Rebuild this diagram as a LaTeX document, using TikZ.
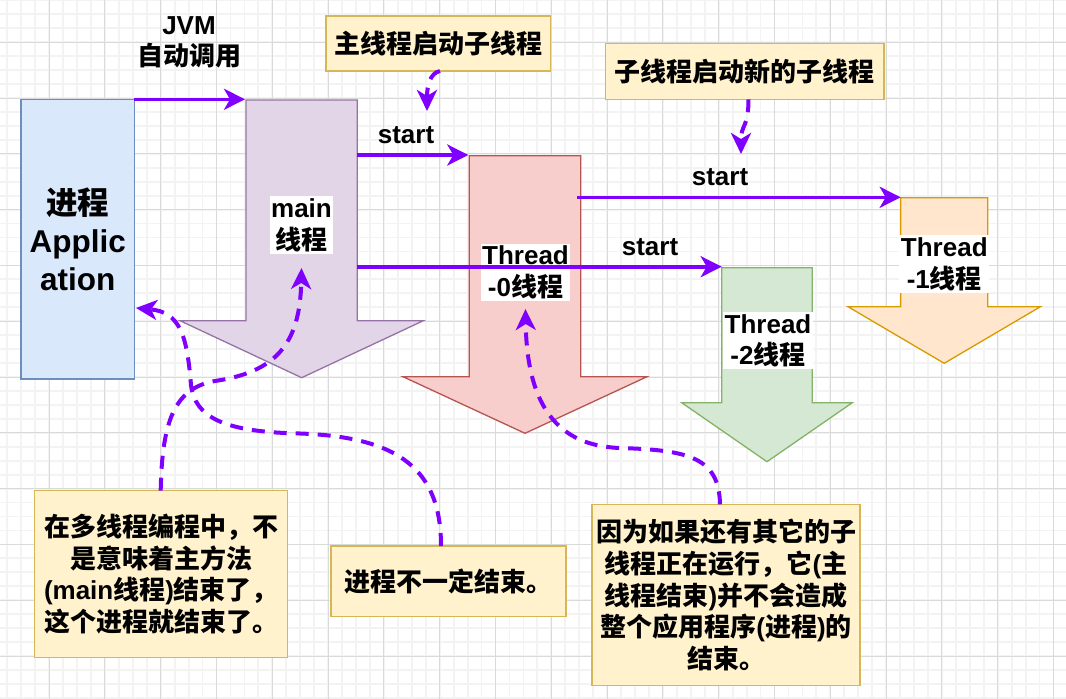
\documentclass[tikz,border=0pt]{standalone}
\usepackage{fontspec}
\setmainfont{Liberation Sans}
\newfontfamily\zhfont{Noto Sans CJK SC}
\usetikzlibrary{arrows.meta}
\newcommand\zh[1]{{\zhfont\bfseries #1}}
\newcommand\fsn{\fontsize{26}{31.7}\selectfont\bfseries}
\newcommand\fsb{\fontsize{31.5}{38}\selectfont\bfseries}
\definecolor{purp}{HTML}{7F00FF}
\definecolor{blueF}{HTML}{DAE8FC}\definecolor{blueD}{HTML}{6C8EBF}
\definecolor{violF}{HTML}{E1D5E7}\definecolor{violD}{HTML}{9673A6}
\definecolor{redF}{HTML}{F8CECC}\definecolor{redD}{HTML}{B85450}
\definecolor{greenF}{HTML}{D5E8D4}\definecolor{greenD}{HTML}{82B366}
\definecolor{orF}{HTML}{FFE6CC}\definecolor{orD}{HTML}{D79B00}
\definecolor{noteF}{HTML}{FFF2CC}\definecolor{noteD}{HTML}{D6B656}
\definecolor{gridMinor}{HTML}{F3F3F3}\definecolor{gridMajor}{HTML}{DADADA}
\begin{document}
\begin{tikzpicture}[x=1pt,y=-1pt,
  minorg/.style={gridMinor,line width=1.8pt},
  majorg/.style={gridMajor,line width=1pt},
  procbox/.style={draw=blueD,fill=blueF,line width=1.3pt,inner sep=0pt,align=center,font=\fsb},
  bigarrow/.style={line width=1.3pt},
  lbl/.style={fill=white,inner xsep=1.5pt,inner ysep=2pt,align=center,font=\fsn},
  txt/.style={inner sep=0pt,align=center,font=\fsn},
  note/.style={draw=noteD,fill=noteF,line width=1.3pt,inner sep=0pt,align=center,font=\fsn},
  conn/.style={purp,line width=3.6pt,-{Stealth[length=21pt,width=21pt,inset=6pt]}},
  dconn/.style={purp,line width=4pt,dash pattern=on 13pt off 9pt,-{Stealth[length=21pt,width=20pt,inset=6pt]}}
]
\useasboundingbox (0,0) rectangle (1066,699);
\fill[white] (0,0) rectangle (1066,699);
% grid
\foreach \i in {-3,...,73} \draw[minorg] ({49.1+13.95*\i},0) -- ({49.1+13.95*\i},699);
\foreach \j in {-3,...,48} \draw[minorg] (0,{42.2+13.95*\j}) -- (1066,{42.2+13.95*\j});
\foreach \i in {-1,...,18} \draw[majorg] ({49.1+55.8*\i},0) -- ({49.1+55.8*\i},699);
\foreach \j in {-1,...,12} \draw[majorg] (0,{42.2+55.8*\j}) -- (1066,{42.2+55.8*\j});

% process box
\node[procbox,minimum width=113.3pt,minimum height=279.7pt] (proc) at (77.7,239.2)
  {\zh{进程}\\Applic\\ation};

% big arrows
\draw[bigarrow,draw=violD,fill=violF] (246,100) -- (357.3,100) -- (357.3,320.7) -- (423.3,320.7) -- (301.7,377.7) -- (180,320.7) -- (246,320.7) -- cycle;
\draw[bigarrow,draw=redD,fill=redF] (469.3,155.7) -- (580.7,155.7) -- (580.7,376.7) -- (647,376.7) -- (525,433.3) -- (403,376.7) -- (469.3,376.7) -- cycle;
\draw[bigarrow,draw=greenD,fill=greenF] (721.7,267.7) -- (812.3,267.7) -- (812.3,402.7) -- (852.3,402.7) -- (767,461.7) -- (681.7,402.7) -- (721.7,402.7) -- cycle;
\draw[bigarrow,draw=orD,fill=orF] (900.7,197.7) -- (987.7,197.7) -- (987.7,306.7) -- (1040.4,306.7) -- (944.2,363.3) -- (848,306.7) -- (900.7,306.7) -- cycle;

% connection points
\coordinate (procTR) at (134.3,99.3);
\coordinate (mainTL) at (245,99.3);
\coordinate (mainR1) at (357.3,155);
\coordinate (t0TL) at (468.3,155);
\coordinate (t0R) at (577.3,197.3);
\coordinate (t1TL) at (900.7,197.3);
\coordinate (mainR2) at (357.3,266.7);
\coordinate (t2TL) at (721.7,266.7);

% labels inside arrows
\node[lbl] (mainlbl) at (301.5,225) {main\\\zh{线程}};
\node[lbl] (t0lbl) at (525.5,272.3) {Thread\\-0\zh{线程}};
\node[lbl] (t2lbl) at (768,340.8) {Thread\\-2\zh{线程}};
\node[lbl] (t1lbl) at (944.3,264) {Thread\\-1\zh{线程}};

% solid connectors
\draw[conn] (procTR) -- (mainTL);
\draw[conn] (mainR1) -- (t0TL);
\draw[conn] (t0R) -- (t1TL);
\draw[conn] (mainR2) -- (t2TL);

% connector labels
\node[txt] (jvm) at (189,42.5) {JVM\\\zh{自动调用}};
\node[txt] (s1) at (406,135) {start};
\node[txt] (s2) at (720,176.7) {start};
\node[txt] (s3) at (650,247.3) {start};

% notes
\node[note,minimum width=224.5pt,minimum height=55pt] (n1) at (438.3,43.5) {\zh{主线程启动子线程}};
\node[note,minimum width=278.5pt,minimum height=55.8pt] (n2) at (744.8,71.4) {\zh{子线程启动新的子线程}};
\node[note,minimum width=252.9pt,minimum height=167pt] (n3) at (161,574.2)
  {\zh{在多线程编程中，不}\\\zh{是意味着主方法}\\(main\zh{线程})\zh{结束了，}\\\zh{这个进程就结束了。}};
\node[note,minimum width=235pt,minimum height=70.3pt] (n4) at (448.5,581.2) {\zh{进程不一定结束。}};
\node[note,minimum width=268pt,minimum height=181.4pt] (n5) at (726,595)
  {\zh{因为如果还有其它的子}\\\zh{线程正在运行，它}(\zh{主}\\\zh{线程结束})\zh{并不会造成}\\\zh{整个应用程序}(\zh{进程})\zh{的}\\\zh{结束。}};

% dashed connectors
\coordinate (n1b) at (440,71);
\coordinate (s1t) at (427,111);
\coordinate (n2b) at (748.5,99.3);
\coordinate (s2t) at (741,154);
\coordinate (n3t) at (160.7,490.7);
\coordinate (mainlb) at (301.5,268);
\coordinate (n4t) at (441,546);
\coordinate (procR) at (136,308);
\coordinate (n5t) at (720,504.3);
\coordinate (t0lb) at (525.5,309);

\draw[dconn] (n1b) .. controls (430,73) and (427,86) .. (s1t);
\draw[dconn] (n2b) .. controls (748.5,128) and (741,124) .. (s2t);
\draw[dconn] (n3t) .. controls (162,420) and (175,388) .. (215,381) .. controls (275,372) and (300,345) .. (mainlb);
\draw[dconn] (n4t) .. controls (441,470) and (400,437) .. (300,433.5) .. controls (225,432) and (195,418) .. (191,385) .. controls (187,335) and (180,312) .. (procR);
\draw[dconn] (n5t) .. controls (719,458) and (690,450) .. (620,448) .. controls (565,446) and (527,415) .. (t0lb);
\end{tikzpicture}
\end{document}
